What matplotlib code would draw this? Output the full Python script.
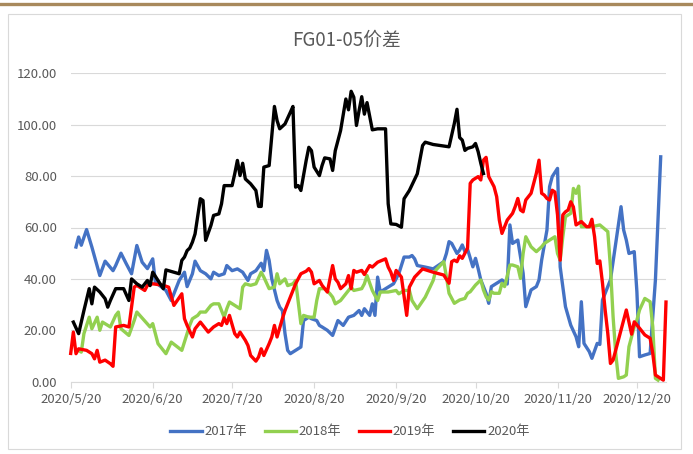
import numpy as np
import matplotlib
matplotlib.use("Agg")
import matplotlib.pyplot as plt
from matplotlib.lines import Line2D
from matplotlib.patches import Rectangle
from matplotlib.ticker import FuncFormatter

plt.rcParams['font.family'] = ['Noto Sans CJK SC', 'DejaVu Sans']

# x 轴按 2020 年日期对齐，数据以距 2020/5/20 的天数记
start = np.datetime64("2020-05-20")

d2017 = [2, 3, 4, 6, 8, 11, 13, 16, 17, 19, 21, 23, 25, 27, 29, 31, 32, 36, 38, 41,
         43, 44, 46, 47, 49, 51, 53, 54, 56, 58, 59, 61, 63, 65, 67, 68, 70, 72, 73, 74,
         75, 76, 78, 79, 80, 81, 82, 83, 85, 87, 88, 90, 91, 93, 94, 95, 97, 99, 101, 103,
         105, 107, 109, 110, 111, 113, 114, 115, 116, 117, 120, 122, 124, 126, 128, 129, 130, 131, 134, 137,
         141, 142, 143, 144, 146, 147, 148, 149, 150, 152, 153, 154, 155, 157, 158, 159, 161, 163, 165, 166,
         167, 169, 170, 171, 172, 174, 176, 177, 178, 180, 181, 182, 184, 185, 187, 189, 191, 192, 193, 194,
         196, 197, 199, 200, 201, 204, 206, 208, 209, 210, 211, 213, 214, 215, 217, 219, 221, 223]
v2017 = [52.4, 56.3, 53.1, 59.2, 52.4, 41.3, 46.9, 43.2, 45.2, 50, 45.9, 42, 53, 46.5, 44, 47.8, 38.7, 35.5, 31.6, 39.4,
         42.6, 37, 42, 46.9, 43.2, 42, 40, 42.6, 41.3, 42, 45.2, 43.2, 43.9, 42.6, 39.4, 42, 43.2, 46.1, 43.2, 51.1,
         47.2, 40, 31.6, 29, 27.7, 18.7, 12.2, 10.9, 12.2, 13.5, 23.8, 25.1, 24.5, 23.8, 21.9, 21.3, 20, 18, 23.8, 21.9,
         25.1, 25.8, 27.7, 25.8, 28.4, 25.8, 30.3, 25.8, 40.7, 34.9, 36.8, 38.1, 42, 48.5, 48.5, 49.1, 47.8, 45.2, 44.6, 43.9,
         46.7, 49.9, 54.5, 53.8, 49.9, 51.2, 53.2, 50.6, 51.5, 44.7, 48, 44, 39.6, 34.4, 30.5, 37, 38.3, 39.6, 38, 61,
         53.8, 55.1, 48.6, 42.2, 29.2, 35.7, 37, 39.6, 47.3, 59, 75.9, 79.8, 83, 44.7, 29.2, 22, 17.5, 13.6, 31.1, 14.9,
         11.7, 9.1, 14.9, 14.5, 31.8, 39.6, 53.8, 68.1, 59, 55.1, 49.9, 50.6, 35, 9.7, 10.4, 11, 39.6, 87.5]

d2018 = [3, 4, 5, 7, 8, 10, 11, 12, 14, 15, 17, 18, 19, 22, 24, 25, 30, 31, 33, 36,
         38, 42, 44, 45, 46, 48, 49, 51, 53, 54, 56, 58, 59, 60, 62, 64, 65, 66, 68, 70,
         72, 73, 75, 77, 78, 79, 81, 82, 84, 85, 87, 88, 90, 92, 93, 94, 96, 98, 99, 100,
         102, 104, 106, 107, 110, 111, 112, 114, 116, 117, 120, 123, 124, 126, 128, 129, 131, 134, 137, 138,
         141, 142, 143, 145, 147, 149, 150, 151, 153, 155, 156, 157, 158, 159, 160, 162, 163, 164, 166, 167,
         169, 170, 171, 172, 174, 176, 178, 179, 181, 183, 184, 185, 186, 187, 189, 190, 191, 192, 193, 195,
         197, 200, 203, 204, 205, 206, 207, 209, 210, 211, 212, 213, 214, 215, 217, 219, 220, 221, 222]
v2018 = [12.2, 11.5, 18.7, 25.1, 20.6, 25.1, 20, 23.2, 21.9, 21.3, 25.8, 27.1, 20.6, 18, 23.8, 27.1, 21.3, 22.6, 14.8, 10.9,
         15.4, 12.2, 18.7, 22, 24.5, 25.8, 27.1, 27.1, 29.7, 30.3, 30.3, 25.1, 28.4, 31, 29.7, 28.4, 36.8, 38.1, 37.5, 38.1,
         42.6, 40.7, 36.2, 36.8, 42, 38.1, 40, 37.4, 38.1, 39.4, 22.6, 25.8, 25.1, 25.1, 31.6, 36.2, 36.2, 34.2, 32.9, 30.3,
         31.6, 34.2, 36.8, 35.5, 36.2, 38.1, 41.3, 35.5, 31.6, 34.9, 34.9, 35.5, 34.2, 35.5, 35.5, 31.6, 28.4, 32.9, 39.4, 43.4,
         46.7, 40.9, 34.4, 30.5, 31.8, 32.4, 34.4, 35, 37.6, 39.6, 35.7, 33.1, 31.8, 35, 34.4, 34.4, 38.3, 37, 45.4, 45.4,
         44.7, 40.2, 49.9, 56.4, 52.5, 50.6, 52.5, 53.8, 55.1, 56.4, 49.9, 47.3, 56.4, 64.2, 65.5, 75.2, 73.3, 76.1, 60.3, 60.3,
         60.3, 61, 58.4, 44.7, 25.3, 11, 1.3, 1.9, 2.6, 13.6, 17.5, 21.4, 24, 27.9, 32.4, 31.1, 21.4, 1.3, 0.6]

d2019 = [0, 1, 2, 3, 6, 8, 9, 10, 11, 13, 15, 16, 17, 20, 22, 24, 25, 28, 29, 31,
         35, 37, 39, 42, 43, 44, 46, 47, 49, 52, 54, 56, 57, 58, 59, 60, 62, 63, 64, 66,
         67, 68, 70, 71, 72, 73, 75, 76, 77, 78, 80, 81, 83, 85, 87, 89, 90, 91, 92, 94,
         95, 97, 99, 100, 101, 102, 104, 105, 106, 107, 108, 110, 111, 113, 114, 116, 119, 120, 121, 122,
         123, 125, 127, 128, 130, 133, 137, 141, 143, 144, 145, 146, 147, 148, 150, 151, 152, 154, 155, 156,
         157, 158, 160, 161, 162, 163, 165, 167, 168, 169, 170, 171, 172, 174, 175, 176, 177, 178, 179, 180,
         181, 182, 183, 184, 185, 186, 187, 188, 189, 190, 191, 193, 195, 196, 197, 198, 199, 200, 201, 202,
         203, 204, 205, 207, 210, 212, 213, 215, 217, 219, 220, 221, 223, 224, 225]
v2019 = [11, 19.3, 10.9, 12.8, 12.2, 10.9, 8.9, 12.2, 7.6, 8.4, 7, 6, 21.3, 21.9, 21.3, 36.8, 37.5, 35.5, 37.5, 38.1,
         37.5, 36.8, 29.7, 34.2, 24.5, 21.9, 17.4, 20.6, 23.2, 19.3, 21.3, 22.6, 21.9, 24.8, 22.6, 25.8, 18.7, 17.4, 19.3, 16.1,
         14.1, 10.2, 8, 9.6, 12.8, 10.2, 14.8, 17.4, 21.9, 17.4, 24.5, 27.7, 32.9, 38.1, 42, 43, 44, 42.6, 38.1, 39.4,
         37.5, 34.9, 45.2, 40, 38.7, 36.2, 38.1, 41.3, 36.2, 43.3, 42.6, 43.3, 41.7, 45.2, 44.6, 46.5, 47.8, 44.6, 42.6, 39.4,
         43.3, 40.7, 25.8, 36.8, 40.7, 43.9, 42.6, 41.5, 38.3, 46.7, 47.3, 46.7, 49, 48, 52, 77.2, 78.5, 79.8, 78.5, 86.2,
         87.3, 79.8, 75.9, 72, 62.9, 57.7, 62.9, 65.5, 68.1, 71.3, 66.8, 66.1, 70.7, 73.3, 77.2, 81.1, 86.2, 73.3, 72.6, 71.3,
         70.7, 74.5, 73.8, 64.9, 47.3, 64.9, 66.1, 66.8, 70, 68, 61, 62.3, 60.3, 60.3, 63.2, 56.4, 46, 47, 38.3, 27.9,
         18.8, 7.1, 8.4, 16.2, 27.9, 18.5, 23.3, 20.8, 18.2, 16.9, 11, 2.6, 1.3, 0.6, 31]

d2020 = [1, 3, 5, 7, 8, 9, 11, 13, 14, 15, 17, 20, 22, 23, 25, 27, 29, 30, 31, 33,
         35, 36, 41, 42, 43, 44, 45, 46, 47, 49, 50, 51, 53, 54, 56, 57, 58, 61, 62, 63,
         64, 65, 66, 68, 70, 71, 72, 73, 75, 77, 78, 79, 81, 83, 84, 85, 86, 87, 89, 90,
         91, 92, 94, 95, 96, 98, 99, 100, 102, 104, 105, 106, 107, 108, 109, 110, 111, 112, 114, 116,
         119, 120, 121, 123, 125, 126, 128, 131, 133, 134, 137, 143, 145, 146, 147, 148, 149, 150, 152, 153,
         154, 155, 156]
v2020 = [23.2, 18.7, 27.7, 36.2, 30.3, 36.8, 34.9, 32.3, 29, 31.6, 36.2, 36.2, 31.6, 40, 38.1, 36.8, 39.4, 37.4, 42.6, 39.4,
         36.2, 43.5, 42, 47.2, 48.5, 51, 52, 54.3, 57.5, 71.2, 70.5, 55, 60.8, 64.7, 65.3, 69.2, 76.3, 76.3, 80.9, 86.1,
         80.2, 85, 78.9, 77, 74.4, 68.2, 68.2, 83.5, 84.1, 107.1, 101.6, 98.4, 100.3, 104.8, 107.1, 75.7, 76.3, 74.4, 86.1, 91.2,
         89.9, 83.5, 80.2, 84.1, 87.1, 86.7, 82.2, 89.9, 97.7, 110, 105.8, 113, 110.7, 99.7, 105.5, 110.9, 104.1, 108.6, 98, 98.4,
         98.4, 69.2, 61.4, 61.2, 60.1, 71.2, 74.4, 80.9, 91.9, 93.2, 92.3, 91.4, 100.5, 106, 95, 94, 90, 90.8, 91.4, 92.7,
         89.5, 85, 81]

labels = ["2017年", "2018年", "2019年", "2020年"]
colors = ["#4472C4", "#92D050", "#FF0000", "#000000"]
xtick_labels = ["2020/5/20", "2020/6/20", "2020/7/20", "2020/8/20",
                "2020/9/20", "2020/10/20", "2020/11/20", "2020/12/20"]
xtick_dates = np.array(["2020-05-20", "2020-06-20", "2020-07-20", "2020-08-20",
                        "2020-09-20", "2020-10-20", "2020-11-20", "2020-12-20"], dtype="datetime64[D]")

fig = plt.figure(figsize=(6.93, 4.54), dpi=100)

# 顶部金色线和图表外框
fig.add_artist(Line2D([0, 1], [1 - 4 / 454, 1 - 4 / 454], color="#A8895C", lw=2.4))
fig.add_artist(Rectangle((7.5 / 693, 1 - 449 / 454), (681 - 7.5) / 693, (449 - 14) / 454,
                         fill=False, ec="#D9D9D9", lw=0.8))

ax = fig.add_axes([70.7 / 693, 1 - 381.7 / 454, (666 - 70.7) / 693, (381.7 - 73.3) / 454])

series = [(d2017, v2017), (d2018, v2018), (d2019, v2019), (d2020, v2020)]
for (d, v), c, lab in zip(series, colors, labels):
    x = start + np.array(d)
    ax.plot(x, v, color=c, lw=2.4, label=lab, clip_on=False, zorder=3)

ax.set_ylim(0, 120)
ax.set_yticks(np.arange(0, 121, 20))
ax.yaxis.set_major_formatter(FuncFormatter(lambda y, p: "%.2f" % y))
ax.set_xlim(start, start + 225)
ax.set_xticks(xtick_dates)
ax.set_xticklabels(xtick_labels)

ax.grid(axis="y", color="#D9D9D9", lw=0.8)
ax.set_axisbelow(True)
for s in ["left", "right", "top"]:
    ax.spines[s].set_visible(False)
ax.spines["bottom"].set_color("#D9D9D9")
ax.spines["bottom"].set_linewidth(0.8)
ax.tick_params(axis="y", length=0, pad=10, labelsize=9.5, labelcolor="#595959")
ax.tick_params(axis="x", length=4, width=0.8, color="#D9D9D9", pad=4, labelsize=9.5, labelcolor="#595959")

fig.text(347 / 693, 1 - 40 / 454, "FG01-05价差", ha="center", va="center", fontsize=13.5, color="#595959")

leg = fig.legend(loc="center", bbox_to_anchor=(350 / 693, 1 - 432 / 454), ncol=4, frameon=False,
                 fontsize=9.5, handlelength=2.4, handletextpad=0.2, columnspacing=1.3)
for t in leg.get_texts():
    t.set_color("#595959")

plt.savefig("out.png", dpi=100)
